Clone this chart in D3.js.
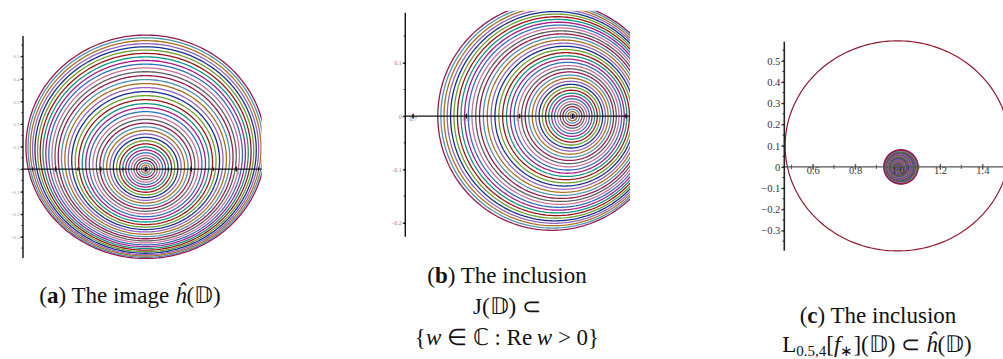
<!DOCTYPE html>
<html>
<head>
<meta charset="utf-8">
<script src="https://cdn.jsdelivr.net/npm/d3@7"></script>
<style>
  html, body { margin: 0; padding: 0; background: #fff; }
  svg { display: block; }
</style>
</head>
<body>
<svg id="fig" width="1003" height="359"></svg>
<script>
// ---------------------------------------------------------------
// Level radii r of the circles |z| = r that are mapped in each panel
// ---------------------------------------------------------------
const levelsA = [0.025,0.05,0.075,0.1,0.125,0.15,0.175,0.2,0.225,0.25,0.275,0.3,0.325,0.35,
                 0.375,0.4,0.425,0.45,0.475,0.5,0.525,0.55,0.575,0.6,0.625,0.65,0.675,0.7,
                 0.725,0.75,0.775,0.8,0.825,0.85,0.875,0.9,0.925,0.95,0.975,1.0];
const levelsB = levelsA;
const levelsC = levelsA;

// shape of the images: [centre re, centre im, half-width, half-height, shift re, shift im, radial swell]
const imageHat = [1.0, 0.0, 0.53, 0.495, 0.0, 0.099, 0.75];   // ĥ(𝔻)
const imageJ   = [1.0, 0.0, 0.214, 0.214, -0.039, 0.0, 0.45];  // J(𝔻)
const imageL   = [1.0, 0.0, 0.08, 0.08, 0.016, 0.0, 0.3];      // L_{0.5,4}[f*](𝔻)

// curve colour cycle (outermost curve first)
const palette = ["#951a52","#4f93ad","#a8701f","#9562bd","#16308e","#6ea030",
                 "#9c1418","#0e957d","#a61c88","#2f6fb9","#c9709b","#5e5e5e"];

// axis ranges and ticks
const xDomA = [0.457, 1.514], yDomA = [-0.394, 0.59];
const xDomB = [0.686, 1.108], yDomB = [-0.226, 0.194];
const xDomC = [0.466, 1.497], yDomC = [-0.395, 0.59];
const yTicksA = [-0.3,-0.2,-0.1,0,0.1,0.2,0.3,0.4,0.5];
const xTicksA = [0.6,0.8,1.0,1.2,1.4];
const yTicksB = [-0.2,-0.1,0,0.1];
const xTicksB = [0.7,0.8,0.9,1.0,1.1];
const yTicksC = [-0.3,-0.2,-0.1,0,0.1,0.2,0.3,0.4,0.5];
const xTicksC = [0.6,0.8,1.0,1.2,1.4];

const svg = d3.select("#fig");

// radial profile: curves crowd near the centre and near the boundary
function swell(r, a) {
  return (r + a * (1 - Math.cos(Math.PI * r)) / Math.PI) / (1 + 2 * a / Math.PI);
}

function curvePoints(r, shape) {
  const [cx, cy, a, b, sx, sy, q] = shape;
  const g = swell(r, q);
  const pts = [];
  for (let i = 0; i < 240; i++) {
    const t = i / 240 * 2 * Math.PI;
    pts.push([cx + sx * g * g + a * g * Math.cos(t), cy + sy * g * g + b * g * Math.sin(t)]);
  }
  return pts;
}

function fmt(v) {
  if (Math.abs(v) < 1e-9) return "0";
  const s = d3.format(".1f")(Math.abs(v));
  return (v < 0 ? "\u2212" : "") + s;
}

function panel(id, xDom, yDom, box) {
  const x = d3.scaleLinear().domain(xDom).range([box.x0, box.x1]);
  const y = d3.scaleLinear().domain(yDom).range([box.y1, box.y0]);
  const g = svg.append("g").attr("id", id);
  g.append("clipPath").attr("id", id + "-clip")
    .append("rect").attr("x", box.x0).attr("y", box.y0 - 2)
    .attr("width", box.x1 - box.x0).attr("height", box.y1 - box.y0 + 4);
  const plot = g.append("g").attr("clip-path", `url(#${id}-clip)`);
  return { x, y, g, plot };
}

function rings(p, levels, shape, width, colorOf) {
  const line = d3.line().x(d => p.x(d[0])).y(d => p.y(d[1])).curve(d3.curveLinearClosed);
  const n = levels.length;
  p.plot.selectAll("path.ring").data(levels).join("path")
    .attr("class", "ring")
    .attr("d", r => line(curvePoints(r, shape)))
    .attr("fill", "none")
    .attr("stroke", (r, i) => colorOf(n - 1 - i))
    .attr("stroke-width", width);
}

function axes(p, xTicks, yTicks, xDom, yDom, st) {
  // horizontal axis at Im w = 0
  const ax = p.g.append("g").attr("transform", `translate(0,${p.y(0)})`)
    .call(d3.axisBottom(p.x).tickValues(xTicks).tickSize(st.tick).tickFormat(fmt));
  ax.select(".domain").attr("stroke", st.xColor).attr("stroke-width", st.xWidth)
    .attr("d", `M${p.x(xDom[0])},0H${p.x(xDom[1])}`);
  ax.selectAll(".tick line").attr("stroke", st.xColor).attr("y1", -st.tick);
  ax.selectAll(".tick text").attr("font-family", "Liberation Serif").attr("font-size", st.font)
    .attr("fill", st.labelColor).attr("dy", "0.3em").attr("y", st.tick + 1);
  const xm = d3.range(Math.ceil(xDom[0] * 10) / 10, xDom[1], 0.1);
  ax.selectAll("line.minor").data(xm).join("line").attr("class", "minor")
    .attr("x1", d => p.x(d)).attr("x2", d => p.x(d)).attr("y1", -st.tick * 0.7).attr("y2", st.tick * 0.7)
    .attr("stroke", st.xColor).attr("stroke-width", 1);

  // vertical axis at the left edge
  const ay = p.g.append("g").attr("transform", `translate(${p.x(xDom[0])},0)`)
    .call(d3.axisLeft(p.y).tickValues(yTicks).tickSize(st.tick).tickFormat(fmt));
  ay.select(".domain").attr("stroke", st.yColor).attr("stroke-width", st.yWidth)
    .attr("d", `M0,${p.y(yDom[0])}V${p.y(yDom[1])}`);
  ay.selectAll(".tick line").attr("stroke", st.yColor);
  ay.selectAll(".tick text").attr("font-family", "Liberation Serif").attr("font-size", st.font)
    .attr("fill", st.labelColor).attr("x", -st.tick - 1);
  const ym = d3.range(Math.ceil(yDom[0] * 20) / 20, yDom[1], 0.05);
  ay.selectAll("line.minor").data(ym).join("line").attr("class", "minor")
    .attr("x1", -st.tick * 0.6).attr("x2", 0).attr("y1", d => p.y(d)).attr("y2", d => p.y(d))
    .attr("stroke", st.yColor).attr("stroke-width", 1);
}

const colorOf = i => palette[i % palette.length];

// ---- (a) the image ĥ(𝔻)
const pA = panel("pa", xDomA, yDomA, { x0: 23, x1: 261.7, y0: 36, y1: 258 });
rings(pA, levelsA, imageHat, 1.3, colorOf);
axes(pA, xTicksA, yTicksA, xDomA, yDomA,
  { tick: 2.5, font: 5, labelColor: "#999", xColor: "#111", yColor: "#111", xWidth: 1.4, yWidth: 1.4 });

// ---- (b) J(𝔻) in the right half-plane
const pB = panel("pb", xDomB, yDomB, { x0: 405.3, x1: 630, y0: 12.7, y1: 236.7 });
rings(pB, levelsB, imageJ, 1.3, colorOf);
axes(pB, xTicksB, yTicksB, xDomB, yDomB,
  { tick: 2.5, font: 6, labelColor: "#888", xColor: "#111", yColor: "#111", xWidth: 1.4, yWidth: 1.4 });

// ---- (c) L_{0.5,4}[f*](𝔻) inside ĥ(𝔻)
const pC = panel("pc", xDomC, yDomC, { x0: 784.3, x1: 1003, y0: 41.7, y1: 250.7 });
{
  const line = d3.line().x(d => pC.x(d[0])).y(d => pC.y(d[1])).curve(d3.curveLinearClosed);
  pC.plot.append("path").attr("d", line(curvePoints(1, imageHat)))
    .attr("fill", "none").attr("stroke", "#8e1a2e").attr("stroke-width", 1.2);
}
rings(pC, levelsC, imageL, 1.7, colorOf);
axes(pC, xTicksC, yTicksC, xDomC, yDomC,
  { tick: 3, font: 10.5, labelColor: "#333", xColor: "#555", yColor: "#222", xWidth: 1.3, yWidth: 1.6 });

// ---- captions
const cap = svg.append("g").attr("font-family", "Liberation Serif").attr("font-size", 23)
  .attr("fill", "#111").attr("text-anchor", "middle");

function caption(cx, by, parts) {
  const t = cap.append("text").attr("x", cx).attr("y", by);
  parts.forEach(p => {
    const s = t.append("tspan").text(p.t);
    if (p.b) s.attr("font-weight", "bold");
    if (p.i) s.attr("font-style", "italic");
    if (p.sub) s.attr("font-size", 15).attr("baseline-shift", "-25%");
  });
  return t;
}

caption(130, 303, [{ t: "(" }, { t: "a", b: 1 }, { t: ") The image " }, { t: "\u0125", i: 1 }, { t: "(\uD835\uDD3B)" }]);
caption(507, 283, [{ t: "(" }, { t: "b", b: 1 }, { t: ") The inclusion" }]);
caption(507, 314, [{ t: "J(\uD835\uDD3B) \u2282" }]);
caption(507, 345, [{ t: "{" }, { t: "w", i: 1 }, { t: " \u2208 \u2102 : Re\u2009" }, { t: "w", i: 1 }, { t: " > 0}" }]);
caption(878, 323, [{ t: "(" }, { t: "c", b: 1 }, { t: ") The inclusion" }]);
caption(877, 352, [{ t: "L" }, { t: "0.5,4", sub: 1 }, { t: "[" }, { t: "f", i: 1 }, { t: "\u2217", sub: 1 },
  { t: "](\uD835\uDD3B) \u2282 " }, { t: "\u0125", i: 1 }, { t: "(\uD835\uDD3B)" }]);
</script>
</body>
</html>
